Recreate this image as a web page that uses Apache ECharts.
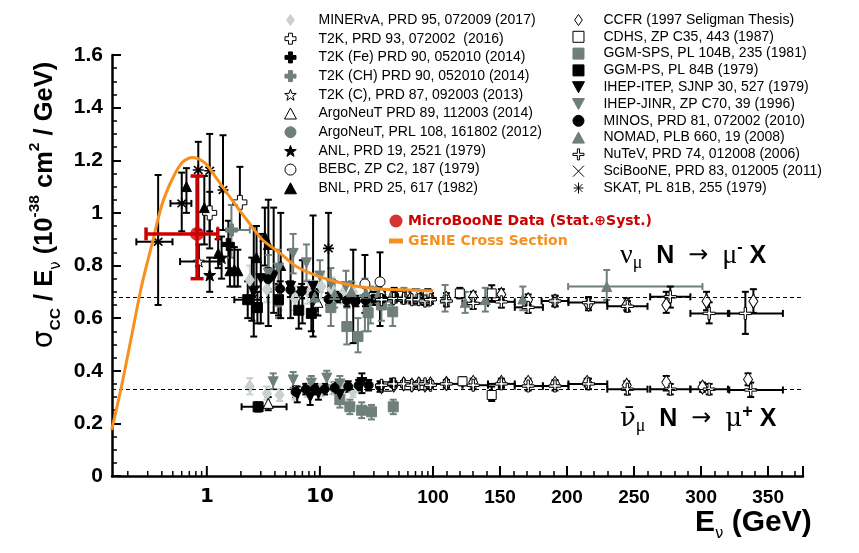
<!DOCTYPE html>
<html>
<head>
<meta charset="utf-8">
<script src="https://cdn.jsdelivr.net/npm/echarts@6.0.0/dist/echarts.min.js"></script>
<style>
html, body { margin: 0; padding: 0; background: #fff; }
#main { width: 859px; height: 553px; }
</style>
</head>
<body>
<div id="main"></div>
<script>
// points: [E (GeV), sigma/E, yLow, yHigh, xLow, xHigh]  (missing error = left out)
var minervaNu = [[2.4,0.745,0.70,0.80],[3.4,0.71,0.66,0.76],[4.4,0.675,0.63,0.72],[6.0,0.675,0.63,0.72],[7.8,0.70,0.655,0.745],[10.3,0.72,0.675,0.765],[12.7,0.71,0.665,0.755],[16,0.695,0.655,0.735],[19.6,0.70,0.665,0.735]];
var minervaNubar = [[2.4,0.34,0.31,0.372],[3.4,0.314,0.29,0.34],[4.4,0.308,0.285,0.33],[6.0,0.315,0.29,0.34],[7.8,0.327,0.30,0.352],[10.3,0.327,0.303,0.35],[13,0.334,0.31,0.358],[16,0.334,0.31,0.358],[19.6,0.32,0.30,0.342]];
var t2kNu = [[1.06,1.0,0.93,1.08],[1.96,1.04,0.935,1.175]];
var t2kFeNu = [[1.55,0.88,0.79,0.97]];
var t2kChNu = [[1.65,0.935,0.83,1.03,1.25,2.4]];
var t2kCNu = [[0.85,0.815,0.75,0.88,0.58,1.3]];
var argo14Nu = [[9.6,0.66,0.61,0.71]];
var argo14Nubar = [[3.49,0.276,0.25,0.30]];
var argo12Nu = [[4.3,0.66,0.60,0.72]];
var anlNu = [[1.06,0.764,0.70,0.83],[1.35,0.83,0.75,0.91]];
var bebcNu = [[25,0.73,0.62,0.84],[34,0.738,0.57,0.85]];
var bnlNu = [[0.66,1.10,1.0,1.17],[0.95,1.02,0.88,1.14],[1.26,0.846,0.79,0.90],[1.6,0.78,0.72,0.86],[1.75,0.785,0.72,0.87],[1.88,0.78,0.72,0.86],[2.75,0.83,0.72,0.95],[3.26,0.91,0.80,1.02],[3.5,0.88,0.57,1.05],[4.5,0.80,0.60,1.00]];
var ccfrNu = [[35,0.69,0.67,0.71],[45,0.685,0.665,0.705],[55,0.68,0.66,0.70],[65,0.68,0.66,0.70],[75,0.675,0.655,0.695],[85,0.67,0.65,0.69],[95,0.675,0.655,0.695],[110,0.675,0.655,0.695],[130,0.681,0.66,0.70],[151,0.69,0.67,0.71],[171,0.67,0.65,0.69],[191,0.665,0.645,0.685],[216,0.652,0.63,0.675],[244.5,0.652,0.63,0.675],[274,0.65,0.62,0.70],[304,0.664,0.63,0.70],[339,0.664,0.62,0.71]];
var ccfrNubar = [[35,0.34,0.33,0.35],[45,0.345,0.335,0.355],[55,0.35,0.34,0.36],[65,0.345,0.335,0.355],[75,0.35,0.34,0.36],[85,0.345,0.335,0.355],[95,0.35,0.34,0.36],[110,0.352,0.34,0.365],[130,0.356,0.34,0.37],[151,0.356,0.34,0.37],[171,0.356,0.34,0.37],[191,0.352,0.34,0.365],[215,0.356,0.34,0.37],[244.5,0.345,0.33,0.36],[274,0.356,0.325,0.38],[301,0.338,0.32,0.355],[335,0.367,0.345,0.39]];
var cdhsNu = [[30,0.68,0.66,0.70],[50,0.685,0.665,0.705],[70,0.69,0.67,0.71],[90,0.69,0.67,0.71],[120,0.694,0.675,0.715],[143.8,0.694,0.665,0.725]];
var cdhsNubar = [[40,0.34,0.325,0.355],[60,0.345,0.33,0.36],[80,0.345,0.33,0.36],[122,0.36,0.345,0.375],[143.8,0.308,0.285,0.34]];
var ggmSpsNu = [[12.5,0.64,0.57,0.71],[17.3,0.568,0.50,0.64],[21.7,0.53,0.47,0.60],[26.7,0.62,0.55,0.69],[35,0.65,0.59,0.71],[44,0.624,0.57,0.68]];
var ggmSpsNubar = [[15,0.29,0.26,0.32],[18.4,0.263,0.235,0.29],[23.4,0.25,0.22,0.28],[28.6,0.244,0.215,0.27],[44.5,0.263,0.235,0.29]];
var ggmPsNu = [[2.3,0.67,0.60,0.74],[2.8,0.64,0.58,0.70],[4.3,0.67,0.61,0.73],[6.5,0.63,0.56,0.70],[8.4,0.618,0.55,0.69]];
var ggmPsNubar = [[2.84,0.263,0.245,0.28,2.03,5.07]];
var itepNu = [[2.6,0.70,0.53,0.95],[3.0,0.75,0.58,0.92],[3.9,0.76,0.62,1.02],[5.5,0.72,0.60,0.86],[7.0,0.70,0.58,0.82],[8.7,0.72,0.53,0.99],[19.7,0.66,0.505,0.86]];
var itepNubar = [[6.3,0.31,0.28,0.34],[8.2,0.30,0.27,0.33],[9.7,0.314,0.29,0.34],[15,0.31,0.28,0.34],[23.5,0.355,0.315,0.39]];
var jinrNu = [[3.5,0.77,0.70,0.84],[4.3,0.79,0.72,0.86],[5.8,0.846,0.77,0.92],[7.6,0.81,0.74,0.88],[10,0.76,0.70,0.82],[12.5,0.73,0.68,0.79],[17,0.72,0.66,0.78],[25,0.67,0.55,0.75],[28,0.66,0.58,0.72]];
var jinrNubar = [[3.86,0.358,0.33,0.39],[5.8,0.365,0.335,0.395],[8.4,0.353,0.325,0.38],[11.5,0.372,0.345,0.40],[15,0.35,0.32,0.38]];
var minosNu = [[3.48,0.748,0.71,0.79],[4.45,0.711,0.68,0.74],[5.48,0.708,0.68,0.74],[6.89,0.702,0.675,0.73],[8.8,0.688,0.665,0.71],[11.9,0.672,0.65,0.695],[14.4,0.68,0.66,0.70],[17.3,0.667,0.645,0.69],[20.8,0.665,0.645,0.685],[25.3,0.667,0.645,0.69],[29.8,0.674,0.65,0.70],[35.7,0.674,0.65,0.70],[45.3,0.687,0.66,0.715]];
var minosNubar = [[6.1,0.32,0.30,0.34],[7.5,0.33,0.31,0.35],[9,0.33,0.31,0.35],[11,0.33,0.31,0.35],[13.5,0.335,0.315,0.355],[17.8,0.34,0.32,0.36],[22,0.345,0.325,0.365],[27,0.345,0.325,0.365],[34,0.34,0.32,0.36],[44,0.35,0.33,0.37]];
var nomadNu = [[9.0,0.68,0.62,0.74],[13.5,0.69,0.64,0.74],[19,0.70,0.66,0.74],[25.6,0.695,0.66,0.73],[32.8,0.69,0.66,0.72],[42.4,0.68,0.65,0.71],[55.3,0.685,0.655,0.715],[72,0.68,0.65,0.71],[88,0.675,0.645,0.705],[109,0.675,0.625,0.726],[124,0.66,0.62,0.70],[139,0.67,0.625,0.715],[167,0.673,0.63,0.72],[229.6,0.72,0.669,0.783,200.8,301]];
var nutevNu = [[35,0.67,0.655,0.685],[45,0.675,0.66,0.69],[55,0.675,0.66,0.69],[65,0.67,0.655,0.685],[75,0.67,0.655,0.685],[85,0.665,0.65,0.68],[95,0.67,0.655,0.685],[110,0.665,0.645,0.685],[130,0.656,0.635,0.675,122,141],[151,0.662,0.64,0.685,141,161],[171,0.641,0.62,0.66,161,182],[191,0.665,0.645,0.685,181,201],[216,0.659,0.64,0.68,201,230],[245,0.645,0.625,0.665,230,260],[277,0.681,0.64,0.72,262,292],[306,0.618,0.58,0.66,292,320],[333,0.618,0.54,0.70,321,361]];
var nutevNubar = [[35,0.345,0.335,0.355],[45,0.35,0.34,0.36],[55,0.35,0.34,0.36],[65,0.345,0.335,0.355],[75,0.35,0.34,0.36],[85,0.35,0.34,0.36],[95,0.345,0.335,0.355],[110,0.35,0.335,0.365,100,122],[130,0.345,0.33,0.36,122,141],[151,0.35,0.335,0.365,141,161],[171,0.342,0.325,0.36,161,182],[191,0.342,0.325,0.36,182,201],[216,0.35,0.33,0.37,201,230],[245,0.33,0.31,0.35,230,260],[277,0.33,0.31,0.35,262,292],[306,0.33,0.31,0.35,292,320],[337,0.327,0.30,0.355,321,361]];
var scibooneNu = [[2.5,0.67,0.59,0.83,1.75,3.0]];
var skatNu = [[0.371,0.89,0.65,1.144,0.238,0.497],[0.6,1.036,0.93,1.153,0.477,0.73],[0.84,1.163,0.935,1.27],[1.06,1.16,0.865,1.30],[1.39,1.087,0.935,1.295],[11.9,0.865,0.67,1.0]];
var microboone = [[0.82,0.92,0.75,1.14,0.29,1.25]];

var genieE  = [0.144,0.177,0.217,0.266,0.326,0.40,0.49,0.60,0.737,0.96,1.18,1.6,2.26,3.12,4.42,6.25,10,18.4,34,62.6,100];
var genieXs = [0.175,0.346,0.536,0.726,0.878,1.03,1.125,1.19,1.21,1.19,1.14,1.06,0.973,0.897,0.848,0.795,0.757,0.726,0.711,0.707,0.703];

var nuLine = 0.677, nubarLine = 0.334;
var xLogMin = 0.145, xLogMax = 100, xLinMax = 376;

var BLACK = '#000', GREY = '#6f7f7c', LIGHT = '#c8d1cf', RED = '#cc0000', ORANGE = '#f7901e';

function starPath() {
  var s = 'path://';
  for (var i = 0; i < 10; i++) {
    var r = i % 2 ? 4 : 10, a = Math.PI / 5 * i - Math.PI / 2;
    s += (i ? 'L' : 'M') + (10 + r * Math.cos(a)).toFixed(2) + ',' + (10.5 + r * Math.sin(a)).toFixed(2);
  }
  return s + 'Z';
}
var SYM = {
  diamond: 'path://M10,0L17,10L10,20L3,10Z',
  cross: 'path://M6.5,0H13.5V6.5H20V13.5H13.5V20H6.5V13.5H0V6.5H6.5Z',
  thinCross: 'path://M8,0H12V8H20V12H12V20H8V12H0V8H8Z',
  star: starPath(),
  triUp: 'path://M10,1L19.5,18.5H0.5Z',
  triDown: 'path://M0.5,1.5H19.5L10,19Z',
  square: 'path://M1,1H19V19H1Z',
  circle: 'circle',
  xmark: 'path://M2,2L18,18M18,2L2,18',
  asterisk: 'path://M10,0V20M1,10H19M3,3L17,17M17,3L3,17'
};

var experiments = [
  {name: 'MINERvA, PRD 95, 072009 (2017)', sym: 'diamond', size: [9, 13], fill: LIGHT, line: LIGHT, pts: minervaNu.concat(minervaNubar)},
  {name: 'T2K, PRD 93, 072002  (2016)', sym: 'cross', size: 14, fill: '#fff', line: BLACK, pts: t2kNu},
  {name: 'T2K (Fe) PRD 90, 052010 (2014)', sym: 'cross', size: 12, fill: BLACK, line: BLACK, pts: t2kFeNu},
  {name: 'T2K (CH) PRD 90, 052010 (2014)', sym: 'cross', size: 12, fill: GREY, line: GREY, pts: t2kChNu},
  {name: 'T2K (C), PRD 87, 092003 (2013)', sym: 'star', size: 11, fill: '#fff', line: BLACK, pts: t2kCNu},
  {name: 'ArgoNeuT PRD 89, 112003 (2014)', sym: 'triUp', size: 10, fill: '#fff', line: BLACK, pts: argo14Nu.concat(argo14Nubar)},
  {name: 'ArgoNeuT, PRL 108, 161802 (2012)', sym: 'circle', size: 10, fill: GREY, line: GREY, pts: argo12Nu},
  {name: 'ANL, PRD 19, 2521 (1979)', sym: 'star', size: 12, fill: BLACK, line: BLACK, pts: anlNu},
  {name: 'BEBC, ZP C2, 187 (1979)', sym: 'circle', size: 10, fill: '#fff', line: BLACK, pts: bebcNu},
  {name: 'BNL, PRD 25, 617 (1982)', sym: 'triUp', size: 10, fill: BLACK, line: BLACK, pts: bnlNu},
  {name: 'CCFR (1997 Seligman Thesis)', sym: 'diamond', size: [9, 14], fill: '#fff', line: BLACK, pts: ccfrNu.concat(ccfrNubar)},
  {name: 'CDHS, ZP C35, 443 (1987)', sym: 'square', size: 9, fill: '#fff', line: BLACK, pts: cdhsNu.concat(cdhsNubar)},
  {name: 'GGM-SPS, PL 104B, 235 (1981)', sym: 'square', size: 10, fill: GREY, line: GREY, pts: ggmSpsNu.concat(ggmSpsNubar)},
  {name: 'GGM-PS, PL 84B (1979)', sym: 'square', size: 10, fill: BLACK, line: BLACK, pts: ggmPsNu.concat(ggmPsNubar)},
  {name: 'IHEP-ITEP, SJNP 30, 527 (1979)', sym: 'triDown', size: 10, fill: BLACK, line: BLACK, pts: itepNu.concat(itepNubar)},
  {name: 'IHEP-JINR, ZP C70, 39 (1996)', sym: 'triDown', size: 10, fill: GREY, line: GREY, pts: jinrNu.concat(jinrNubar)},
  {name: 'MINOS, PRD 81, 072002 (2010)', sym: 'circle', size: 9, fill: BLACK, line: BLACK, pts: minosNu.concat(minosNubar)},
  {name: 'NOMAD, PLB 660, 19 (2008)', sym: 'triUp', size: 10, fill: GREY, line: GREY, pts: nomadNu},
  {name: 'NuTeV, PRD 74, 012008 (2006)', sym: 'thinCross', size: 12, fill: '#fff', line: BLACK, pts: nutevNu.concat(nutevNubar)},
  {name: 'SciBooNE, PRD 83, 012005 (2011)', sym: 'xmark', size: 10, fill: BLACK, line: BLACK, stroke: 1.6, pts: scibooneNu},
  {name: 'SKAT, PL 81B, 255 (1979)', sym: 'asterisk', size: 11, fill: BLACK, line: BLACK, stroke: 1.6, pts: skatNu}
];
var legendLeft = experiments.slice(0, 10).map(function (e) { return e.name; });
var legendRight = experiments.slice(10).map(function (e) { return e.name; });
var MB_NAME = 'MicroBooNE Data (Stat.\u2295Syst.)';
var GENIE_NAME = 'GENIE Cross Section';

// error bars, clamped to the grid they are drawn in
function barRenderer(color, lw, cap) {
  return function (params, api) {
    var cs = params.coordSys;
    var left = cs.x, right = cs.x + cs.width;
    var E = api.value(0), y = api.value(1);
    var yLo = api.value(2), yHi = api.value(3), xLo = api.value(4), xHi = api.value(5);
    var c = api.coord([E, y]);
    var st = {stroke: color, lineWidth: lw};
    var kids = [];
    var inside = c[0] >= left - 0.5 && c[0] <= right + 0.5;
    if (inside && yLo > 0) {
      var a = api.coord([E, yLo]), b = api.coord([E, yHi]);
      kids.push({type: 'line', shape: {x1: c[0], y1: a[1], x2: c[0], y2: b[1]}, style: st});
      kids.push({type: 'line', shape: {x1: c[0] - cap, y1: a[1], x2: c[0] + cap, y2: a[1]}, style: st});
      kids.push({type: 'line', shape: {x1: c[0] - cap, y1: b[1], x2: c[0] + cap, y2: b[1]}, style: st});
    }
    if (xLo > 0) {
      var l = api.coord([xLo, y])[0], r = api.coord([xHi, y])[0];
      var lc = Math.max(left, Math.min(right, l)), rc = Math.max(left, Math.min(right, r));
      if (rc > lc) {
        kids.push({type: 'line', shape: {x1: lc, y1: c[1], x2: rc, y2: c[1]}, style: st});
        if (l >= left && l <= right) kids.push({type: 'line', shape: {x1: l, y1: c[1] - cap, x2: l, y2: c[1] + cap}, style: st});
        if (r >= left && r <= right) kids.push({type: 'line', shape: {x1: r, y1: c[1] - cap, x2: r, y2: c[1] + cap}, style: st});
      }
    }
    return {type: 'group', children: kids};
  };
}
function fillMissing(p) {
  var out = p.slice();
  while (out.length < 6) out.push(-1);
  return out;
}
function inGrid(g) {
  return function (p) { return g === 0 ? p[0] <= xLogMax : p[0] > xLogMax; };
}

var series = [];
experiments.forEach(function (ex) {
  [0, 1].forEach(function (g) {
    series.push({
      type: 'scatter', name: ex.name, xAxisIndex: g, yAxisIndex: g, z: 4,
      symbol: SYM[ex.sym], symbolSize: ex.size,
      itemStyle: {color: ex.fill, borderColor: ex.line, borderWidth: ex.stroke || 1, opacity: 1},
      data: ex.pts.filter(inGrid(g)).map(function (p) { return [p[0], p[1]]; })
    });
  });
  [0, 1].forEach(function (g) {
    series.push({
      type: 'custom', name: ex.name, xAxisIndex: g, yAxisIndex: g, z: 2,
      renderItem: barRenderer(ex.line, 2, 3.5),
      data: ex.pts.map(fillMissing)
    });
  });
});

// GENIE prediction
series.push({
  type: 'line', name: GENIE_NAME, xAxisIndex: 0, yAxisIndex: 0, z: 5,
  smooth: 0.3, showSymbol: false, symbol: 'none',
  lineStyle: {color: ORANGE, width: 3}, itemStyle: {color: ORANGE},
  data: genieE.map(function (e, i) { return [e, genieXs[i]]; })
});
// MicroBooNE
series.push({
  type: 'scatter', name: MB_NAME, xAxisIndex: 0, yAxisIndex: 0, z: 7,
  symbol: 'circle', symbolSize: 14, itemStyle: {color: RED},
  data: microboone.map(function (p) { return [p[0], p[1]]; })
});
series.push({
  type: 'custom', name: MB_NAME, xAxisIndex: 0, yAxisIndex: 0, z: 6,
  renderItem: barRenderer(RED, 3.5, 6.5),
  data: microboone.map(fillMissing)
});

// dashed reference lines
[0, 1].forEach(function (g) {
  series.push({
    type: 'line', xAxisIndex: g, yAxisIndex: g, data: [], z: 1, silent: true,
    markLine: {
      silent: true, symbol: 'none', label: {show: false}, animation: false,
      lineStyle: {color: '#000', width: 1, type: [4, 3]},
      data: [{yAxis: nuLine}, {yAxis: nubarLine}]
    }
  });
});

// log-axis tick marks (major at decades, minor at 2..9)
var logTicks = [];
[0.1, 1, 10].forEach(function (d) {
  for (var k = 1; k < 10; k++) {
    var v = +(k * d).toPrecision(3);
    if (v >= xLogMin) logTicks.push([v, k === 1 ? 1 : 0]);
  }
});
logTicks.push([100, 1]);
series.push({
  type: 'custom', xAxisIndex: 0, yAxisIndex: 0, z: 8, silent: true,
  renderItem: function (params, api) {
    var p = api.coord([api.value(0), 0]);
    var len = api.value(1) ? 10 : 5;
    return {type: 'line', shape: {x1: p[0], y1: p[1], x2: p[0], y2: p[1] - len},
      style: {stroke: '#000', lineWidth: api.value(1) ? 2 : 1.5}};
  },
  data: logTicks
});

var axisLineStyle = {show: true, onZero: false, lineStyle: {color: '#000', width: 2.5}};
var legendText = {fontFamily: 'Liberation Sans, Arial, sans-serif', fontSize: 14, color: '#000', lineHeight: 14};

var chart = echarts.init(document.getElementById('main'));
chart.setOption({
  animation: false,
  backgroundColor: '#fff',
  grid: [
    {left: 112, top: 55, width: 321, height: 421},
    {left: 433, top: 55, width: 370, height: 421}
  ],
  xAxis: [
    {type: 'log', logBase: 10, gridIndex: 0, min: xLogMin, max: xLogMax,
      axisLine: axisLineStyle, axisTick: {show: false}, splitLine: {show: false},
      axisLabel: {showMinLabel: false, showMaxLabel: false, margin: 11,
        fontFamily: 'DejaVu Sans, sans-serif', fontWeight: 'bold', fontSize: 20, color: '#000'}},
    {type: 'value', gridIndex: 1, min: xLogMax, max: xLinMax, interval: 50,
      axisLine: axisLineStyle,
      axisTick: {inside: true, length: 10, lineStyle: {color: '#000', width: 2}},
      minorTick: {show: true, splitNumber: 5, length: 5, lineStyle: {color: '#000', width: 1.5}},
      splitLine: {show: false}, minorSplitLine: {show: false},
      axisLabel: {showMaxLabel: false, margin: 12,
        fontFamily: 'Liberation Sans, Arial, sans-serif', fontWeight: 'bold', fontSize: 19, color: '#000'}}
  ],
  yAxis: [
    {type: 'value', gridIndex: 0, min: 0, max: 1.6, interval: 0.2,
      axisLine: axisLineStyle,
      axisTick: {inside: true, length: 9, lineStyle: {color: '#000', width: 2}},
      minorTick: {show: true, splitNumber: 4, length: 5, lineStyle: {color: '#000', width: 1.5}},
      splitLine: {show: false}, minorSplitLine: {show: false},
      axisLabel: {margin: 9, fontFamily: 'Liberation Sans, Arial, sans-serif', fontWeight: 'bold', fontSize: 21, color: '#000'}},
    {type: 'value', gridIndex: 1, min: 0, max: 1.6, show: false}
  ],
  legend: [
    {orient: 'vertical', left: 279, top: 8, itemWidth: 46, itemHeight: 11, itemGap: 4.7,
      selectedMode: false, symbolKeepAspect: true, itemStyle: {borderWidth: 1},
      textStyle: legendText, data: legendLeft},
    {orient: 'vertical', left: 567, top: 8, itemWidth: 40, itemHeight: 11, itemGap: 2.8,
      selectedMode: false, symbolKeepAspect: true, itemStyle: {borderWidth: 1},
      textStyle: legendText, data: legendRight},
    {orient: 'vertical', left: 384, top: 209, itemWidth: 14, itemHeight: 13, itemGap: 6,
      selectedMode: false, symbolKeepAspect: true,
      textStyle: {fontFamily: 'DejaVu Sans, sans-serif', fontWeight: 'bold', fontSize: 14, lineHeight: 14},
      data: [
        {name: MB_NAME, icon: 'circle', textStyle: {color: RED}},
        {name: GENIE_NAME, icon: 'path://M0,0H14V5H0Z', textStyle: {color: ORANGE}}
      ]}
  ],
  graphic: [
    {type: 'text', x: 45, y: 205, rotation: Math.PI / 2,
      style: {
        text: '{g|\u03c3}{s|CC}{m| / E}{gs|\u03bd}{m| (10}{p|-38}{m| cm}{p|2}{m| / GeV)}',
        align: 'center', verticalAlign: 'middle',
        rich: {
          m: {fontFamily: 'Liberation Sans, Arial, sans-serif', fontWeight: 'bold', fontSize: 25.5, lineHeight: 37, fill: '#000'},
          g: {fontFamily: 'DejaVu Sans, sans-serif', fontSize: 28, lineHeight: 37, fill: '#000'},
          s: {fontFamily: 'Liberation Sans, Arial, sans-serif', fontWeight: 'bold', fontSize: 15.5, lineHeight: 15.5, verticalAlign: 'bottom', fill: '#000'},
          gs: {fontFamily: 'DejaVu Sans, sans-serif', fontSize: 15, lineHeight: 15, verticalAlign: 'bottom', fill: '#000'},
          p: {fontFamily: 'Liberation Sans, Arial, sans-serif', fontWeight: 'bold', fontSize: 15.5, lineHeight: 15.5, verticalAlign: 'top', fill: '#000'}
        }
      }},
    {type: 'text', x: 695, y: 523,
      style: {
        text: '{m|E}{gs|\u03bd}{m| (GeV)}', verticalAlign: 'middle',
        rich: {
          m: {fontFamily: 'Liberation Sans, Arial, sans-serif', fontWeight: 'bold', fontSize: 30, lineHeight: 38, fill: '#000'},
          gs: {fontFamily: 'DejaVu Sans, sans-serif', fontSize: 15, lineHeight: 15, verticalAlign: 'bottom', fill: '#000'}
        }
      }},
    {type: 'text', x: 620, y: 256,
      style: {
        text: '{g|\u03bd}{gs|\u03bc}{m|  N  }{a|\u2192}{m|  }{g|\u03bc}{gp|-}{m| X}', verticalAlign: 'middle',
        rich: {
          m: {fontFamily: 'Liberation Sans, Arial, sans-serif', fontWeight: 'bold', fontSize: 25, lineHeight: 32, fill: '#000'},
          a: {fontFamily: 'DejaVu Sans, sans-serif', fontSize: 24, lineHeight: 32, fill: '#000'},
          g: {fontFamily: 'Liberation Serif, serif', fontSize: 28, lineHeight: 32, fill: '#000'},
          gs: {fontFamily: 'Liberation Serif, serif', fontSize: 18, lineHeight: 14, verticalAlign: 'bottom', fill: '#000'},
          gp: {fontFamily: 'Liberation Sans, Arial, sans-serif', fontWeight: 'bold', fontSize: 16, lineHeight: 14, verticalAlign: 'top', fill: '#000'}
        }
      }},
    {type: 'text', x: 620, y: 419,
      style: {
        text: '{g|\u03bd\u0304}{gs|\u03bc}{m|  N  }{a|\u2192}{m|  }{g|\u03bc}{gp|+}{m| X}', verticalAlign: 'middle',
        rich: {
          m: {fontFamily: 'Liberation Sans, Arial, sans-serif', fontWeight: 'bold', fontSize: 25, lineHeight: 32, fill: '#000'},
          a: {fontFamily: 'DejaVu Sans, sans-serif', fontSize: 24, lineHeight: 32, fill: '#000'},
          g: {fontFamily: 'DejaVu Serif, serif', fontSize: 26, lineHeight: 32, fill: '#000'},
          gs: {fontFamily: 'Liberation Serif, serif', fontSize: 18, lineHeight: 14, verticalAlign: 'bottom', fill: '#000'},
          gp: {fontFamily: 'Liberation Sans, Arial, sans-serif', fontWeight: 'bold', fontSize: 18, lineHeight: 14, verticalAlign: 'top', fill: '#000'}
        }
      }}
  ],
  series: series
});
</script>
</body>
</html>
